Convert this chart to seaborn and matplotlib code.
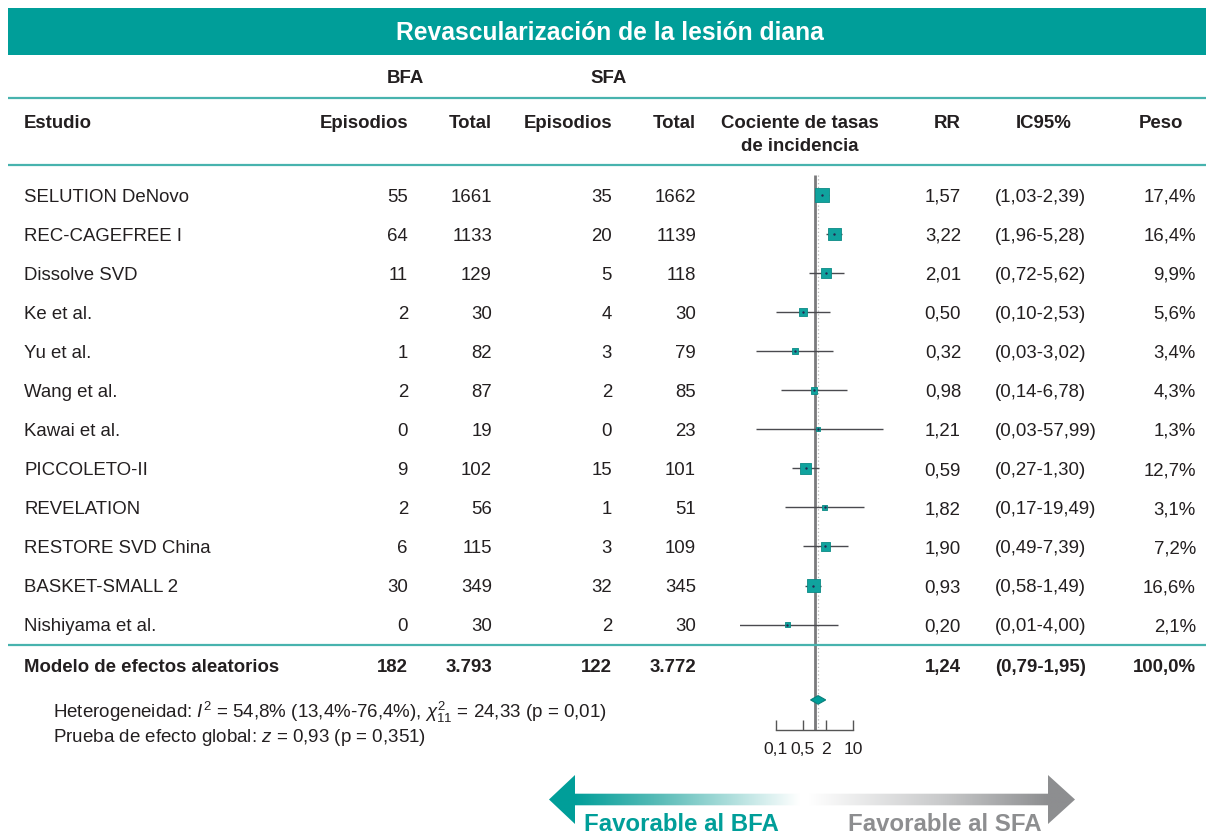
#!/usr/bin/env python3
"""Forest plot: revascularizacion de la lesion diana, BFA vs SFA."""

import numpy as np
import pandas as pd
import matplotlib
matplotlib.use("Agg")
import matplotlib.pyplot as plt
import seaborn as sns
from matplotlib.patches import Polygon, Rectangle
from matplotlib.colors import LinearSegmentedColormap
from matplotlib.ticker import FixedLocator, FixedFormatter, NullLocator

# ---- data ----
studies = ["SELUTION DeNovo", "REC-CAGEFREE I", "Dissolve SVD", "Ke et al.",
           "Yu et al.", "Wang et al.", "Kawai et al.", "PICCOLETO-II",
           "REVELATION", "RESTORE SVD China", "BASKET-SMALL 2", "Nishiyama et al."]
bfa_events = [55, 64, 11, 2, 1, 2, 0, 9, 2, 6, 30, 0]
bfa_total = [1661, 1133, 129, 30, 82, 87, 19, 102, 56, 115, 349, 30]
sfa_events = [35, 20, 5, 4, 3, 2, 0, 15, 1, 3, 32, 2]
sfa_total = [1662, 1139, 118, 30, 79, 85, 23, 101, 51, 109, 345, 30]
rr = [1.57, 3.22, 2.01, 0.50, 0.32, 0.98, 1.21, 0.59, 1.82, 1.90, 0.93, 0.20]
ci_low = [1.03, 1.96, 0.72, 0.10, 0.03, 0.14, 0.03, 0.27, 0.17, 0.49, 0.58, 0.01]
ci_high = [2.39, 5.28, 5.62, 2.53, 3.02, 6.78, 57.99, 1.30, 19.49, 7.39, 1.49, 4.00]
weight = [17.4, 16.4, 9.9, 5.6, 3.4, 4.3, 1.3, 12.7, 3.1, 7.2, 16.6, 2.1]

pooled_label = "Modelo de efectos aleatorios"
pooled_counts = ["182", "3.793", "122", "3.772"]
pooled_rr = 1.24
pooled_ci = (0.79, 1.95)
pooled_weight = "100,0%"

axis_ticks = [0.1, 0.5, 1, 2, 10]
axis_ticklabels = ["0,1", "0,5", "", "2", "10"]

# ---- style ----
TEAL = "#009E99"
RULE = "#47B3AE"
GRAY_ARROW = "#8D8E90"
INK = "#231F20"
FS = 13.4

W, H = 1206, 836
ROW0, STEP = 195.0, 39.05
POOLED_Y = 665.0
DIAMOND_ROW = 12.93

sns.set_theme(style="white")
plt.rcParams["font.family"] = ["Liberation Sans", "DejaVu Sans"]
plt.rcParams["mathtext.fontset"] = "custom"
plt.rcParams["mathtext.rm"] = "Liberation Sans"
plt.rcParams["mathtext.it"] = "Liberation Sans:italic"
plt.rcParams["mathtext.bf"] = "Liberation Sans:bold"


def dec(v, n=2):
    return f"{v:.{n}f}".replace(".", ",")


def row_y(i):
    return ROW0 + STEP * i


fig = plt.figure(figsize=(W / 100, H / 100), dpi=100)

# ---- forest panel (log scale) ----
PX_ONE, PX_DEC = 814.5, 38.7
L, R, T, B = 740, 895, 170, 730
axf = fig.add_axes([L / W, 1 - B / H, (R - L) / W, (B - T) / H])
axf.set_xscale("log")
axf.set_xlim(10 ** ((L - PX_ONE) / PX_DEC), 10 ** ((R - PX_ONE) / PX_DEC))
y_bottom = (B - ROW0) / STEP
axf.set_ylim(y_bottom, (T - ROW0) / STEP)
axf.patch.set_alpha(0)

df = pd.DataFrame({"rr": rr, "row": np.arange(len(rr)), "w": weight,
                   "lo": ci_low, "hi": ci_high})

# reference line and pooled estimate line
axf.vlines(1, -0.5, y_bottom, color="#7A7A7C", lw=2.0, zorder=1)
axf.vlines(pooled_rr, -0.5, y_bottom, color="#B8B8B8", lw=0.9,
           linestyles=(0, (1, 2)), zorder=1)

axf.hlines(df["row"], df["lo"], df["hi"], color="#4A4A4F", lw=1.0, zorder=2)
k = 5.2
sns.scatterplot(data=df, x="rr", y="row", size="w",
                sizes=(k * df["w"].min(), k * df["w"].max()),
                marker="s", color="#10A39E", edgecolor="#0A8A85", linewidth=0.6,
                legend=False, ax=axf, zorder=3)
axf.scatter(df["rr"], df["row"], s=3, color="#262650", zorder=4, lw=0)

# pooled diamond
dh = 0.11
axf.fill([pooled_ci[0], pooled_rr, pooled_ci[1], pooled_rr],
         [DIAMOND_ROW, DIAMOND_ROW - dh, DIAMOND_ROW, DIAMOND_ROW + dh],
         color=TEAL, ec="#0A7F7A", lw=0.8, zorder=3)

for s in ["top", "right", "left"]:
    axf.spines[s].set_visible(False)
axf.spines["bottom"].set_bounds(axis_ticks[0], axis_ticks[-1])
axf.spines["bottom"].set_color("#555555")
axf.spines["bottom"].set_linewidth(1.0)
axf.xaxis.set_major_locator(FixedLocator(axis_ticks))
axf.xaxis.set_major_formatter(FixedFormatter(axis_ticklabels))
axf.xaxis.set_minor_locator(NullLocator())
axf.tick_params(axis="x", direction="in", length=7.5, width=1.0,
                color="#555555", pad=9, labelsize=12.6, labelcolor=INK,
                bottom=True)
axf.set_yticks([])
axf.set_xlabel("")
axf.set_ylabel("")

# ---- table overlay in pixel coordinates ----
ax = fig.add_axes([0, 0, 1, 1])
ax.set_zorder(2)
ax.patch.set_alpha(0)
ax.axis("off")


def txt(x, y, s, ha="left", bold=False, size=FS, color=INK):
    # y is the vertical centre of the capitals
    ax.text(x, y + 0.358 * size * 100 / 72, s, ha=ha, va="baseline",
            fontsize=size, fontweight="bold" if bold else "normal", color=color)


# title bar
ax.add_patch(Rectangle((8, 8), W - 8, 47, color=TEAL, lw=0))
txt(610, 31, "Revascularización de la lesión diana", ha="center", bold=True,
    size=17.7, color="white")

# rules
for yy in [98, 165, 645]:
    ax.plot([8, W], [yy, yy], color=RULE, lw=1.6, solid_capstyle="butt")

# headers
txt(405, 76, "BFA", ha="center", bold=True)
txt(609, 76, "SFA", ha="center", bold=True)
txt(24, 121, "Estudio", bold=True)
txt(408, 121, "Episodios", ha="right", bold=True)
txt(492, 121, "Total", ha="right", bold=True)
txt(612, 121, "Episodios", ha="right", bold=True)
txt(696, 121, "Total", ha="right", bold=True)
txt(800, 121, "Cociente de tasas", ha="center", bold=True)
txt(800, 144, "de incidencia", ha="center", bold=True)
txt(961, 121, "RR", ha="right", bold=True)
txt(1044, 121, "IC95%", ha="center", bold=True)
txt(1183, 121, "Peso", ha="right", bold=True)

# study rows
for i, name in enumerate(studies):
    y = row_y(i)
    txt(24, y, name)
    txt(408, y, str(bfa_events[i]), ha="right")
    txt(492, y, str(bfa_total[i]), ha="right")
    txt(612, y, str(sfa_events[i]), ha="right")
    txt(696, y, str(sfa_total[i]), ha="right")
    txt(961, y, dec(rr[i]), ha="right")
    txt(995, y, f"({dec(ci_low[i])}-{dec(ci_high[i])})")
    txt(1196, y, dec(weight[i], 1) + "%", ha="right")

# pooled row
txt(24, POOLED_Y, pooled_label, bold=True)
for xr, s in zip([408, 492, 612, 696], pooled_counts):
    txt(xr, POOLED_Y, s, ha="right", bold=True)
txt(961, POOLED_Y, dec(pooled_rr), ha="right", bold=True)
txt(995, POOLED_Y, f"({dec(pooled_ci[0])}-{dec(pooled_ci[1])})", bold=True)
txt(1196, POOLED_Y, pooled_weight, ha="right", bold=True)

# heterogeneity
txt(53, 711, r"Heterogeneidad: $I^2$ = 54,8% (13,4%-76,4%), $\chi^2_{11}$ = 24,33 (p = 0,01)",
    size=13.5)
txt(53, 735, r"Prueba de efecto global: $z$ = 0,93 (p = 0,351)", size=13.5)

# direction arrows with gradient fill
yc = 799.5
left_poly = [(549, yc), (575, yc - 24.5), (575, yc - 5.8), (800, yc - 5.8),
             (800, yc + 5.8), (575, yc + 5.8), (575, yc + 24.5)]
right_poly = [(808, yc - 5.8), (1048, yc - 5.8), (1048, yc - 24.5), (1075, yc),
              (1048, yc + 24.5), (1048, yc + 5.8), (808, yc + 5.8)]
grad = np.linspace(0, 1, 256)[None, :]
cm_left = LinearSegmentedColormap.from_list(
    "l", [(0, TEAL), (0.1, TEAL), (0.45, "#5DBDB9"), (1, "#FFFFFF")])
cm_right = LinearSegmentedColormap.from_list(
    "r", [(0, "#FFFFFF"), (0.5, "#C9CACB"), (0.9, GRAY_ARROW), (1, GRAY_ARROW)])
for poly, cmap, x0, x1 in [(left_poly, cm_left, 549, 800),
                           (right_poly, cm_right, 808, 1075)]:
    patch = Polygon(poly, closed=True, fc="none", ec="none")
    ax.add_patch(patch)
    im = ax.imshow(grad, cmap=cmap, extent=[x0, x1, yc + 26, yc - 26],
                   aspect="auto", interpolation="bilinear")
    im.set_clip_path(patch)

txt(681, 822, "Favorable al BFA", ha="center", bold=True, size=17.3, color=TEAL)
txt(945, 822, "Favorable al SFA", ha="center", bold=True, size=17.3,
    color=GRAY_ARROW)

ax.set_xlim(0, W)
ax.set_ylim(H, 0)

fig.savefig("out.png", dpi=100)
plt.close(fig)
